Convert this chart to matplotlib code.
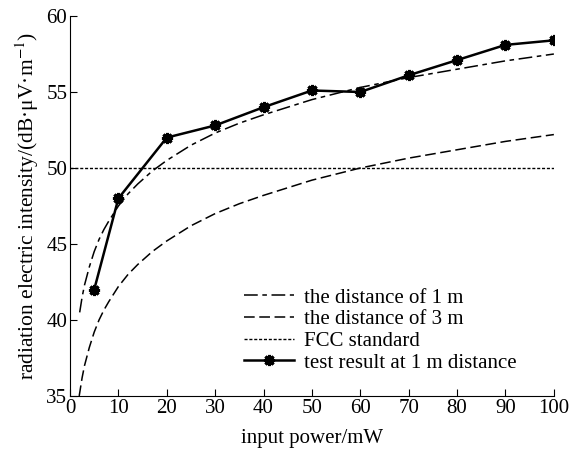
import numpy as np
import matplotlib
matplotlib.use("Agg")
import matplotlib.pyplot as plt

plt.rcParams['font.family'] = ['Liberation Serif', 'DejaVu Serif']
plt.rcParams['mathtext.fontset'] = 'stix'

# theoretical curves
p_theory = [2, 2.5, 3, 3.5, 4, 5, 6, 7, 8, 10, 12, 14, 17, 20, 25, 30, 35, 40,
            50, 60, 70, 80, 90, 100]
e_1m = [40.5, 41.5, 42.3, 42.9, 43.5, 44.5, 45.3, 45.95, 46.5, 47.5, 48.3, 48.95,
        49.8, 50.5, 51.5, 52.3, 52.95, 53.5, 54.5, 55.3, 55.95, 56.5, 57.05, 57.5]
p_3m = [1.9] + p_theory
e_3m = [35.0, 35.2, 36.2, 37.0, 37.6, 38.2, 39.2, 40.0, 40.65, 41.2, 42.2, 43.0,
        43.65, 44.5, 45.2, 46.2, 47.0, 47.65, 48.2, 49.2, 50.0, 50.65, 51.2, 51.75, 52.2]

fcc_x = [0, 100]
fcc_y = [50, 50]

# measured data
p_test = [5, 10, 20, 30, 40, 50, 60, 70, 80, 90, 100]
e_test = [42.0, 48.0, 52.0, 52.8, 54.0, 55.1, 55.0, 56.1, 57.1, 58.1, 58.4]

fig = plt.figure(figsize=(5.71, 4.51), dpi=100)
ax = fig.add_axes([0.1226, 0.122, 0.8474, 0.8425])

ax.plot(p_theory, e_1m, color='black', lw=1.1, dashes=(9, 3, 3, 3),
        label='the distance of 1 m')
ax.plot(p_3m, e_3m, color='black', lw=1.1, dashes=(7, 3),
        label='the distance of 3 m')
ax.plot(fcc_x, fcc_y, color='black', lw=1.0, dashes=(2.2, 1.3),
        label='FCC standard')
ax.plot(p_test, e_test, color='black', lw=1.8, marker=(8, 2, 0), ms=8, mew=2.2,
        label='test result at 1 m distance')

ax.set_xlim(0, 100)
ax.set_ylim(35, 60)
ax.set_xticks(np.arange(0, 101, 10))
ax.set_yticks(np.arange(35, 61, 5))
ax.spines['top'].set_visible(False)
ax.spines['right'].set_visible(False)
ax.tick_params(direction='in', length=5, labelsize=15, pad=2)

ax.set_xlabel('input power/mW', fontsize=15, labelpad=8)
ax.set_ylabel('radiation electric intensity/(dB·μV·m$^{-1}$)', fontsize=15.5, labelpad=4)

ax.legend(loc='lower right', bbox_to_anchor=(0.962, 0.012), frameon=False, fontsize=15,
          handlelength=2.4, handletextpad=0.5, labelspacing=0.1)

fig.savefig('out.png', dpi=100)
